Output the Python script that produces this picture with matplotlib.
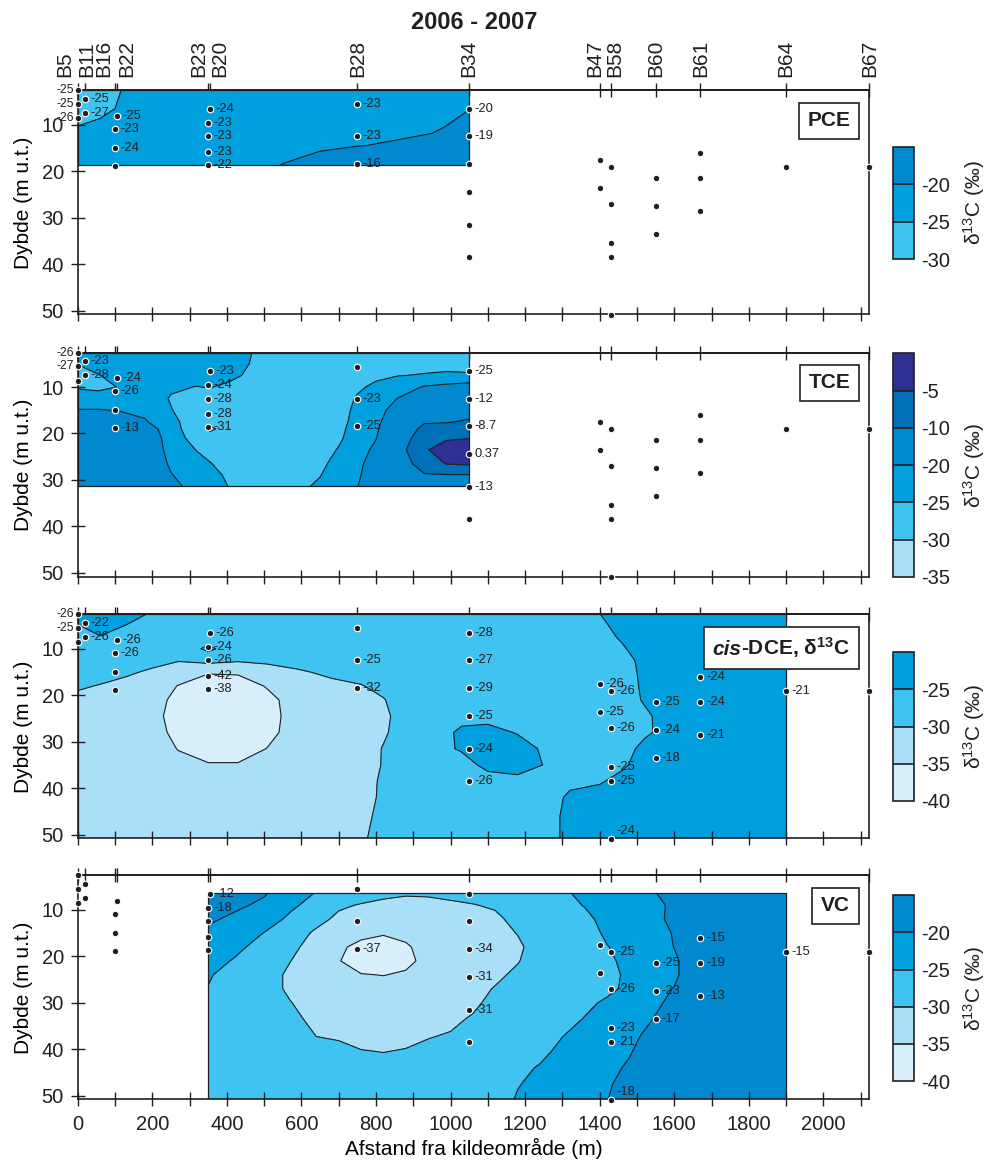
import numpy as np
import matplotlib.pyplot as plt
from matplotlib.ticker import MultipleLocator
from matplotlib.offsetbox import AnchoredOffsetbox, TextArea, HPacker

plt.rcParams['font.family'] = ['Liberation Sans', 'DejaVu Sans']
plt.rcParams['mathtext.fontset'] = 'custom'
plt.rcParams['mathtext.rm'] = 'Liberation Sans'
plt.rcParams['mathtext.it'] = 'Liberation Sans:italic'
plt.rcParams['mathtext.bf'] = 'Liberation Sans:bold'
plt.rcParams['mathtext.default'] = 'regular'
plt.rcParams['axes.unicode_minus'] = False
plt.rcParams['contour.negative_linestyle'] = 'solid'

INK = '#231f20'

# wells along the section (distance from source, m)
well_names = ['B5', 'B11', 'B16', 'B22', 'B23', 'B20', 'B28', 'B34',
              'B47', 'B58', 'B60', 'B61', 'B64', 'B67']
well_x = [0, 19, 100, 106, 350, 355, 750, 1050, 1400, 1430, 1550, 1670, 1900, 2123]

# sampling points: distance (m) and depth (m u.t.)
sample_x = [0, 0, 0, 19, 19, 106, 100, 100, 100, 355, 350, 350, 350, 350,
            750, 750, 750, 1050, 1050, 1050, 1050, 1050, 1050, 1400, 1400,
            1430, 1430, 1430, 1430, 1430, 1550, 1550, 1550, 1670, 1670, 1670,
            1900, 2123]
sample_depth = [2.6, 5.5, 8.6, 4.5, 7.5, 8.0, 10.9, 15.0, 18.9, 6.5, 9.5, 12.5,
                15.8, 18.7, 5.6, 12.5, 18.5, 6.5, 12.5, 18.5, 24.5, 31.5, 38.5,
                17.5, 23.5, 19.0, 27.0, 35.4, 38.5, 51.0, 21.5, 27.5, 33.4,
                16.0, 21.5, 28.5, 19.0, 19.0]

# measured d13C at the points (None = not written on the chart)
pce_vals = [-25, -25, -26, -25, -27, -25, -23, -24, None, -24, -23, -23, -23, -22,
            -23, -23, -16, -20, -19, None, None, None, None, None, None,
            None, None, None, None, None, None, None, None, None, None, None,
            None, None]
tce_vals = [-26, -27, None, -23, -28, -24, -26, None, -13, -23, -24, -28, -28, -31,
            None, -23, -25, -25, -12, -8.7, 0.37, -13, None, None, None,
            None, None, None, None, None, None, None, None, None, None, None,
            None, None]
cis_vals = [-26, -25, None, -22, -26, -26, -26, None, None, -26, -24, -26, -42, -38,
            None, -25, -32, -28, -27, -29, -25, -24, -26, -26, -25,
            -26, -26, -25, -25, -24, -25, -24, -18, -24, -24, -21,
            -21, None]
vc_vals = [None, None, None, None, None, None, None, None, None, -12, -18, None, None, None,
           None, None, -37, None, None, -34, -31, -31, None, None, None,
           -25, -26, -23, -21, -18, -25, -23, -17, -15, -19, -13,
           -15, None]

# contoured fields, one list per column (distance), values down the depth nodes
pce_x = [0, 60, 120, 180, 300, 450, 550, 650, 750, 850, 950, 1050]
pce_depth = [2.6, 6.5, 10.5, 14.5, 18.6]
pce_grid = [
    [-27, -26.5, -24.9, -24, -24],
    [-26.5, -25.8, -24.3, -23.5, -23.5],
    [-24.9, -24.6, -23.5, -23, -23],
    [-24, -23.5, -23, -23, -22.5],
    [-23, -23, -23, -22.5, -22],
    [-23, -23, -23, -22, -21.5],
    [-23, -23, -23, -21.5, -19.9],
    [-23, -23, -22.5, -20.6, -18.5],
    [-23, -23, -22, -20.1, -16],
    [-22.5, -22, -21, -19.6, -17],
    [-22, -21.5, -20.4, -19.2, -17.5],
    [-21, -20.05, -19.2, -18.8, -18],
]

tce_x = [0, 55, 110, 180, 250, 320, 355, 410, 470, 560, 650, 700, 750, 800, 860, 930, 990, 1050]
tce_depth = [2.6, 5, 7.5, 10, 12.5, 15, 17.5, 19, 21, 23.5, 26.5, 29, 31.4]
tce_grid = [
    [-23, -24.8, -27.5, -25.5, -22.5, -19.8, -16, -15, -15, -15, -15, -15, -15],
    [-23, -23.5, -25.2, -26.5, -22, -19.8, -16, -15, -15, -15, -15, -15, -15],
    [-23, -23, -23.5, -24.8, -23, -20.2, -16, -15, -15, -15, -15, -15, -15],
    [-23, -23, -23, -23, -22.5, -21.2, -19.5, -17, -15.5, -15, -15, -15, -15],
    [-23, -23, -23.5, -24.5, -25.3, -24.8, -23.5, -23, -22.5, -22, -20.8, -19.7, -18],
    [-23, -23, -23.5, -25.1, -27, -27.5, -28, -28, -27, -25.2, -23.5, -23, -22.5],
    [-23, -23, -23.5, -24.8, -27.5, -28, -28.5, -30.8, -28, -26.5, -24.8, -23.5, -23],
    [-23, -23, -24, -26, -27.5, -28, -28, -28, -28, -27.5, -27, -26, -25.3],
    [-25.1, -25.4, -26, -27.5, -27.5, -27.5, -27.5, -27.5, -27.5, -27.5, -27.5, -27.5, -27.5],
    [-27.5, -27.5, -27.5, -27.5, -27.5, -27.5, -27.5, -27.5, -27.5, -27.5, -27.5, -27.5, -27.5],
    [-27.5, -27.5, -27.5, -27.5, -27.5, -27.5, -27.5, -27.5, -27.5, -27, -26.3, -25.2, -24],
    [-27.5, -27.5, -27.5, -27.5, -27.5, -27.5, -27, -26.5, -25.8, -24.7, -23, -22, -21.5],
    [-27.5, -27.5, -27.5, -25.8, -24.5, -23.5, -23, -22.5, -22.5, -22, -21.5, -21, -20.2],
    [-27.5, -27.5, -26, -24, -23, -22.5, -21.5, -20.8, -20.2, -19, -17, -16, -15],
    [-27.5, -26.5, -25.1, -22.5, -19.8, -17, -15, -14.5, -13, -12, -13.5, -15, -15],
    [-27.5, -26, -24.8, -19.6, -17, -14, -10.5, -8.5, -7, -5.5, -7, -10.5, -13],
    [-27.5, -26, -24.5, -18.5, -15, -12.5, -10.3, -8, -5.5, -3, -4.8, -10.3, -13],
    [-28, -26.5, -24.5, -17.5, -13.5, -11.5, -9.5, -7.5, -5.2, -1, -4.3, -10.3, -13],
]

cis_x = [0, 60, 130, 200, 270, 350, 430, 510, 590, 680, 760, 820, 900, 1030,
         1100, 1180, 1260, 1320, 1400, 1460, 1520, 1580, 1900]
cis_depth = [2.6, 5, 7.5, 10, 12.5, 15, 18, 21, 24.5, 28, 31.5, 35, 38.5, 42, 46, 50.8]
cis_grid = [
    [-23, -25.2, -27.5, -27.5, -27.5, -28, -29.5, -31, -32.5, -32.5, -32.5, -32.5, -32.5, -32.5, -32.5, -32.5],
    [-22.5, -23.5, -25.2, -27.5, -27.5, -28.5, -30.2, -31.5, -32.5, -32.5, -32.5, -32.5, -32.5, -32.5, -32.5, -32.5],
    [-23.5, -25.1, -27, -27.5, -28, -29.5, -31, -32.5, -32.5, -32.5, -32.5, -32.5, -32.5, -32.5, -32.5, -32.5],
    [-25.5, -26.5, -27.5, -27.5, -29, -30.5, -32, -33, -33.5, -33, -32.5, -32.5, -32.5, -32.5, -32.5, -32.5],
    [-27.5, -27.5, -27.5, -28, -29.8, -32, -35.2, -36.5, -37, -36.5, -35.2, -33.5, -32.5, -32.5, -32.5, -32.5],
    [-27.5, -27.5, -27, -24, -28.5, -34.5, -38, -39, -39, -38.5, -38, -34.5, -32.5, -32.5, -32.5, -32.5],
    [-27.5, -27.5, -27.5, -28, -29.5, -34.2, -38, -39, -39, -38.5, -38, -34.5, -32.5, -32.5, -32.5, -32.5],
    [-27.5, -27.5, -27.5, -28, -29.3, -31.5, -34.5, -36.5, -37, -36.5, -34.8, -33.5, -32.5, -32.5, -32.5, -32.5],
    [-27.5, -27.5, -27.5, -27.5, -28.5, -30.5, -32, -32.5, -32.5, -32.5, -32.5, -32.5, -32.5, -32.5, -32.5, -32.5],
    [-27.5, -27.5, -27.5, -27.5, -28, -29.2, -31, -32.5, -32.5, -32.5, -32.5, -32.5, -32.5, -32.5, -32.5, -32.5],
    [-27.5, -27.5, -27.5, -27.5, -27.5, -28.5, -30.2, -31, -32, -32, -31.8, -31.5, -31.3, -31.5, -31, -30.6],
    [-27.5, -27.5, -27.5, -27.5, -27.5, -28, -29, -30.2, -30.8, -30.5, -29.8, -29.8, -29.5, -29.3, -29, -28.5],
    [-27.5, -27.5, -27.5, -27.5, -27.5, -27.5, -27.5, -27.5, -27.5, -27.5, -27.5, -27.5, -27.5, -27.5, -27.5, -27.5],
    [-27.5, -27.5, -27.5, -27.5, -27.5, -27.5, -27.5, -27, -25.8, -24.5, -24.6, -26.5, -27.5, -27.5, -27.5, -27.5],
    [-27.5, -27.5, -27.5, -27.5, -27.5, -27.5, -27.5, -27.5, -26.5, -23.5, -23, -24, -26.5, -27.5, -27.5, -27.5],
    [-27.5, -27.5, -27.5, -27.5, -27.5, -27.5, -27.5, -27.5, -27.5, -25.3, -23, -23.5, -26, -27.5, -27.5, -27.5],
    [-27.5, -27.5, -27.5, -27.5, -27.5, -27.5, -27.5, -27.5, -27.5, -27.5, -26, -25.3, -26.5, -27.5, -27.5, -27.5],
    [-27.5, -27.5, -27.5, -27.5, -27.5, -27.5, -27.5, -27.5, -27.5, -27.5, -27.5, -27, -26.3, -24, -23, -23],
    [-25.1, -26, -26.5, -27, -27, -27, -27, -27, -26.5, -27, -27, -26.8, -25.5, -23, -22.5, -22.5],
    [-22.5, -23.5, -24.5, -25.5, -27, -27, -27, -27, -27, -27, -26.5, -25.8, -23.5, -22.5, -22.5, -22.5],
    [-22.5, -22.5, -22.5, -23, -23.5, -24, -24.3, -24.6, -25.8, -25.6, -24, -23, -22.5, -22.5, -22.5, -22.5],
    [-22.5, -22.5, -22.5, -22.5, -22.5, -22.5, -22.5, -23, -23.5, -24, -23.5, -22.5, -22.5, -22.5, -22.5, -22.5],
    [-22.5, -22.5, -22.5, -22.5, -22.5, -22.5, -22.5, -22.5, -22.5, -22.5, -22.5, -22.5, -22.5, -22.5, -22.5, -22.5],
]

vc_x = [350, 420, 500, 570, 640, 700, 760, 820, 880, 940, 1000, 1060, 1120,
        1180, 1240, 1300, 1360, 1420, 1480, 1540, 1600, 1660, 1900]
vc_depth = [6.4, 9, 12, 15, 18, 21, 24, 27, 30, 33.5, 37, 40.5, 44, 47.5, 50.8]
vc_grid = [
    [-16, -17.5, -19.2, -21, -22.5, -23.5, -24.5, -25.2, -26.5, -27.5, -27.5, -27.5, -27.5, -27.5, -27.5],
    [-17.5, -19, -21, -22.5, -24, -25.3, -27, -27.5, -27.5, -27.5, -27.5, -27.5, -27.5, -27.5, -27.5],
    [-19.5, -21, -23, -25.1, -26.5, -27.5, -27.5, -27.5, -27.5, -27.5, -27.5, -27.5, -27.5, -27.5, -27.5],
    [-23, -24.2, -25.8, -27.5, -28.5, -29.9, -31, -31, -29.8, -28.5, -27.5, -27.5, -27.5, -27.5, -27.5],
    [-25.2, -26.5, -28.5, -30.8, -32.5, -33, -33, -33, -32.5, -31.5, -30.1, -28.8, -27.5, -27.5, -27.5],
    [-27.5, -29.3, -31, -33, -34.5, -34.8, -34.5, -33.5, -32.5, -32, -30.5, -29, -28, -27.5, -27.5],
    [-28, -30.3, -32.5, -34.2, -35.8, -37, -34.8, -33.5, -32.5, -32, -31.5, -29.8, -28.5, -27.5, -27.5],
    [-29, -31, -33, -34.7, -36.5, -37.5, -35.1, -33.5, -32.5, -32, -31.5, -30.1, -28.5, -27.5, -27.5],
    [-29.5, -31.5, -33, -34.2, -35.4, -36, -34.5, -33.5, -32.5, -32, -31.3, -29.7, -28.5, -27.5, -27.5],
    [-29.3, -31.5, -33, -33.5, -33.8, -33.8, -33.5, -33, -32.5, -31.8, -30.3, -29, -28, -27.5, -27.5],
    [-28.8, -30.8, -32.5, -33, -33, -33, -33, -32.5, -32, -31, -29.7, -28.5, -27.5, -27.5, -27.5],
    [-28.3, -30.2, -32, -33, -33.5, -33, -32, -31.5, -31, -29.5, -28.5, -27.5, -27.5, -27.5, -27.5],
    [-27.8, -29.4, -31, -32, -32.5, -32, -31, -29.7, -28.5, -27.5, -27.5, -27.5, -27.5, -27.5, -27.5],
    [-27.5, -27.5, -28.5, -29.8, -31, -30.3, -29, -27.5, -27.5, -27.5, -27.5, -27.5, -26.5, -25.3, -24.5],
    [-27.5, -27.5, -27.5, -27.5, -27.5, -27.5, -27.5, -27.5, -27.5, -27.5, -27.5, -26.5, -24.5, -23.5, -23],
    [-26, -27, -27.5, -27.5, -27.5, -27.5, -27.5, -27.5, -27.5, -26.5, -25.2, -23.5, -22.5, -22.5, -22.5],
    [-23.5, -24.7, -26.5, -27.5, -27.5, -27.5, -27.5, -27, -26, -24.8, -23, -22.5, -22.5, -22.5, -22.5],
    [-22.5, -22.5, -23, -24, -25.2, -26, -26.5, -26, -24.3, -22.8, -22, -21.5, -21, -20.5, -20.1],
    [-22.5, -22.5, -22.5, -22.5, -23, -23.5, -24, -24, -23, -22, -21, -20.3, -19.5, -18.5, -18],
    [-20.4, -21.5, -21.5, -22.5, -22.5, -22.5, -22.5, -22, -21, -20.1, -19, -18, -17.5, -17, -17],
    [-18.5, -19, -18.8, -19.6, -19.9, -20.8, -20.8, -19.8, -19, -18, -17.5, -17, -16.5, -16, -16],
    [-17, -17, -17, -17, -17, -17, -17, -17, -17, -17, -17, -17, -17, -17, -17],
    [-17, -17, -17, -17, -17, -17, -17, -17, -17, -17, -17, -17, -17, -17, -17],
]

pce_levels = [-30, -25, -20, -15]
tce_levels = [-35, -30, -25, -20, -10, -5, 0]
cis_levels = [-40, -35, -30, -25, -20]
vc_levels = [-40, -35, -30, -25, -20, -15]

c_40 = '#d7effb'
c_35 = '#aadff8'
c_30 = '#3fc3f0'
c_25 = '#00a0df'
c_20 = '#0089cf'
c_10 = '#0070b8'
c_5 = '#2e3192'

panels = [
    dict(gx=pce_x, gd=pce_depth, grid=pce_grid, levels=pce_levels,
         colors=[c_30, c_25, c_20], vals=pce_vals,
         tag=[('PCE', 'normal')], cbar=[0.9045, 0.7767, 0.0216, 0.0968]),
    dict(gx=tce_x, gd=tce_depth, grid=tce_grid, levels=tce_levels,
         colors=[c_35, c_30, c_25, c_20, c_10, c_5], vals=tce_vals,
         tag=[('TCE', 'normal')], cbar=[0.9045, 0.5028, 0.0216, 0.1926]),
    dict(gx=cis_x, gd=cis_depth, grid=cis_grid, levels=cis_levels,
         colors=[c_40, c_35, c_30, c_25], vals=cis_vals,
         tag=[('cis', 'italic'), ('-DCE, δ$^{13}$C', 'normal')],
         cbar=[0.9045, 0.3095, 0.0216, 0.1284]),
    dict(gx=vc_x, gd=vc_depth, grid=vc_grid, levels=vc_levels,
         colors=[c_40, c_35, c_30, c_25, c_20], vals=vc_vals,
         tag=[('VC', 'normal')], cbar=[0.9045, 0.0681, 0.0216, 0.1601]),
]
bottoms = [0.729, 0.503, 0.2773, 0.0523]

# nudges (points) for the crowded well names on top
name_shift = {'B5': -9, 'B11': 1.5, 'B16': -8, 'B22': 7, 'B23': -6.5,
              'B20': 7, 'B47': -3.5, 'B58': 3}

fig = plt.figure(figsize=(9.87, 11.6), dpi=100)

for i, p in enumerate(panels):
    ax = fig.add_axes([0.0787, bottoms[i], 0.802, 0.193])
    z = np.array(p['grid']).T
    cs = ax.contourf(p['gx'], p['gd'], z, levels=p['levels'], colors=p['colors'], zorder=1)
    ax.contour(p['gx'], p['gd'], z, levels=p['levels'][1:-1], colors=INK,
               linewidths=0.8, linestyles='solid', zorder=2)
    x0, x1 = min(p['gx']), max(p['gx'])
    d0, d1 = min(p['gd']), max(p['gd'])
    ax.plot([x0, x1, x1, x0, x0], [d0, d0, d1, d1, d0], color=INK, lw=0.9, zorder=3)

    ax.scatter(sample_x, sample_depth, s=22, c=INK, edgecolors='white',
               linewidths=0.8, zorder=5, clip_on=False)
    for x, d, v in zip(sample_x, sample_depth, p['vals']):
        if v is None:
            continue
        dy = 6 if d > 50 else 0
        if x == 0:
            ax.annotate(f'{v:g}', (x, d), xytext=(-3, dy), textcoords='offset points',
                        ha='right', va='center', fontsize=8.8, color=INK,
                        annotation_clip=False, zorder=6)
        else:
            ax.annotate(f'{v:g}', (x, d), xytext=(4, dy), textcoords='offset points',
                        ha='left', va='center', fontsize=9.3, color=INK,
                        annotation_clip=False, zorder=6)

    ax.set_xlim(0, 2123)
    ax.set_ylim(50.8, 2.6)
    ax.set_yticks([10, 20, 30, 40, 50])
    ax.set_xticks(np.arange(0, 2001, 200))
    ax.xaxis.set_minor_locator(MultipleLocator(100))
    ax.tick_params(axis='both', which='both', direction='inout', length=10, width=1,
                   colors=INK, labelsize=14.5)
    ax.tick_params(axis='y', pad=5)
    ax.tick_params(axis='x', pad=6, labelbottom=(i == 3))
    for sp in ax.spines.values():
        sp.set_linewidth(1.2)
        sp.set_color(INK)
    ax.set_ylabel('Dybde (m u.t.)', fontsize=15, labelpad=6)

    top = ax.secondary_xaxis('top')
    top.set_xticks(well_x)
    top.set_xticklabels([])
    top.tick_params(direction='inout', length=10, width=1, colors=INK)
    top.spines['top'].set_linewidth(1.2)

    if i == 0:
        for name, x in zip(well_names, well_x):
            ax.annotate(name, xy=(x, 1), xycoords=('data', 'axes fraction'),
                        xytext=(name_shift.get(name, 0), 10), textcoords='offset points',
                        rotation=90, ha='center', va='bottom', fontsize=15, color=INK,
                        annotation_clip=False)
    if i == 3:
        ax.set_xlabel('Afstand fra kildeområde (m)', fontsize=15, labelpad=3)

    parts = [TextArea(t, textprops=dict(fontsize=15, fontweight='bold', fontstyle=st, color=INK))
             for t, st in p['tag']]
    row = HPacker(children=parts, pad=0, sep=0, align='baseline')
    box = AnchoredOffsetbox(loc='upper right', child=row, pad=0.42, borderpad=0,
                            frameon=True, bbox_to_anchor=(0.987, 0.946),
                            bbox_transform=ax.transAxes, prop=dict(size=15))
    box.patch.set_edgecolor(INK)
    box.patch.set_linewidth(1.2)
    box.set_zorder(7)
    ax.add_artist(box)

    cax = fig.add_axes(p['cbar'])
    cb = fig.colorbar(cs, cax=cax, ticks=p['levels'][:-1], drawedges=True)
    cb.outline.set_linewidth(1.2)
    cb.outline.set_edgecolor(INK)
    cb.dividers.set_color(INK)
    cb.dividers.set_linewidth(1.2)
    cax.set_yticklabels([f'{v:g}' for v in p['levels'][:-1]])
    cax.tick_params(length=0, labelsize=14.5, pad=5, colors=INK)
    cb.set_label('δ$^{13}$C (‰)', fontsize=15, labelpad=8, color=INK)

fig.text(0.48, 0.981, '2006 - 2007', ha='center', va='center',
         fontsize=17, fontweight='bold', color=INK)

fig.savefig('out.png', dpi=100)
